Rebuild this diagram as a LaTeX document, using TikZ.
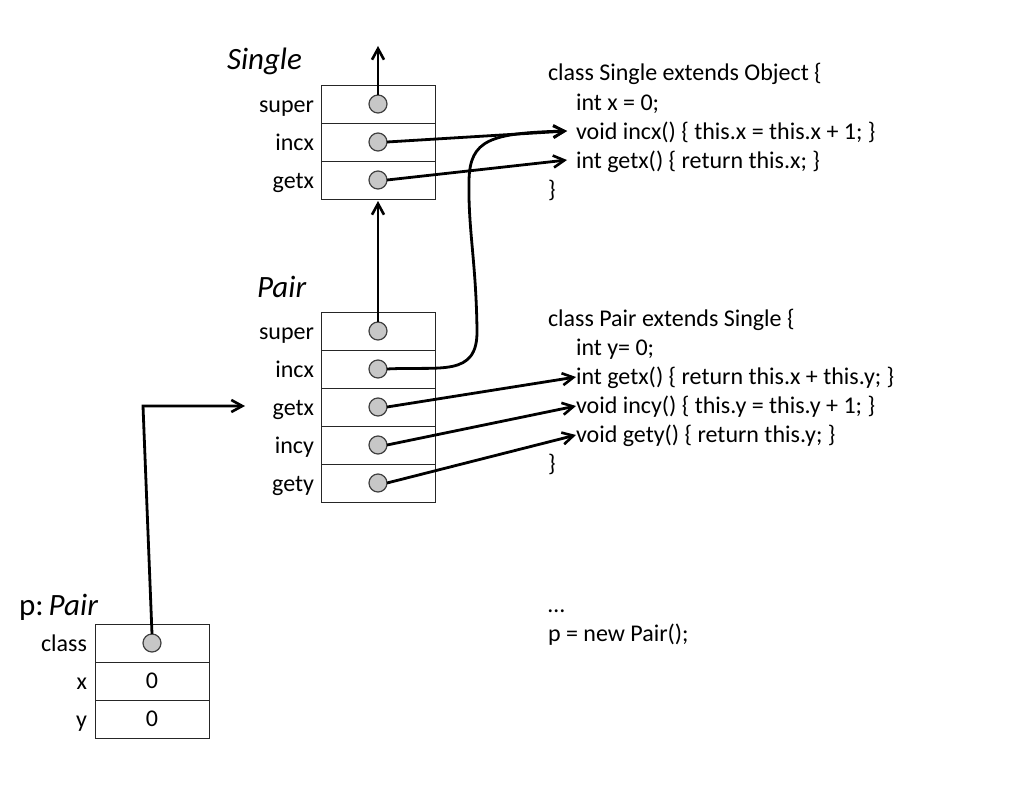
\documentclass[tikz,border=0pt]{standalone}
\usepackage{fontspec}
\setmainfont{Carlito}
\usetikzlibrary{arrows.meta}
\begin{document}
\begin{tikzpicture}[x=1pt,y=-1pt,
  every node/.style={inner sep=0pt,outer sep=0pt},
  row/.style={draw=black!85,line width=1pt,minimum width=114pt,minimum height=38pt,fill=white,font=\fontsize{24}{29}\selectfont},
  dot/.style={circle,draw=black!75,line width=1.2pt,fill=black!22,minimum size=18pt},
  lbl/.style={anchor=base east,font=\fontsize{24}{29}\selectfont},
  code/.style={anchor=base west,font=\fontsize{24}{29}\selectfont},
  title/.style={anchor=base west,font=\fontsize{31}{36}\selectfont\itshape},
  conn/.style={line width=2.8pt,-{Straight Barb[length=11pt,width=12pt,line width=2.6pt]}}
]
\useasboundingbox (0,0) rectangle (1024,784);
% Single object
\node[title] (tsingle) at (227,70) {Single};
\node[row] (s1) at (378,104) {};
\node[row] (s2) at (378,142) {};
\node[row] (s3) at (378,180) {};
\node[lbl] (ls1) at (314,112) {super};
\node[lbl] (ls2) at (314,150) {incx};
\node[lbl] (ls3) at (314,188) {getx};
% Pair object
\node[title] (tpair) at (257,297) {Pair};
\node[row] (p1) at (378,331) {};
\node[row] (p2) at (378,369) {};
\node[row] (p3) at (378,407) {};
\node[row] (p4) at (378,445) {};
\node[row] (p5) at (378,483) {};
\node[lbl] (lp1) at (314,339) {super};
\node[lbl] (lp2) at (314,377) {incx};
\node[lbl] (lp3) at (314,415) {getx};
\node[lbl] (lp4) at (314,453) {incy};
\node[lbl] (lp5) at (314,491) {gety};
% p instance
\node[anchor=base west,font=\fontsize{31}{36}\selectfont] (tp) at (19,615) {p:\,\textit{Pair}};
\node[row] (o1) at (152,643) {};
\node[row] (o2) at (152,681) {0};
\node[row] (o3) at (152,719) {0};
\node[lbl] (lo1) at (87,651) {class};
\node[lbl] (lo2) at (87,689) {x};
\node[lbl] (lo3) at (87,727) {y};
% code Single
\node[code] (c1) at (548,81) {class Single extends Object \{};
\node[code] (c2) at (576,110) {int x = 0;};
\node[code] (c3) at (576,139) {void incx() \{ this.x = this.x + 1; \}};
\node[code] (c4) at (576,168) {int getx() \{ return this.x; \}};
\node[code] (c5) at (548,197) {\}};
% code Pair
\node[code] (d1) at (548,326) {class Pair extends Single \{};
\node[code] (d2) at (576,355) {int y= 0;};
\node[code] (d3) at (576,384) {int getx() \{ return this.x + this.y; \}};
\node[code] (d4) at (576,413) {void incy() \{ this.y = this.y + 1; \}};
\node[code] (d5) at (576,442) {void gety() \{ return this.y; \}};
\node[code] (d6) at (548,471) {\}};
\node[code] (e1) at (548,612) {…};
\node[code] (e2) at (548,641) {p = new Pair();};
% coordinates
\coordinate (top) at (378,46);
\coordinate (sbot) at (378,201);
\coordinate (incxT) at (567,131);
\coordinate (getxT) at (567,160);
\coordinate (pgetxT) at (576,377);
\coordinate (pincyT) at (576,406);
\coordinate (pgetyT) at (576,435);
\coordinate (bend) at (143,406);
\coordinate (ptarget) at (245,406);
% dots
\node[dot] (sd1) at (378,104) {};
\node[dot] (sd2) at (378,142) {};
\node[dot] (sd3) at (378,180) {};
\node[dot] (pd1) at (378,331) {};
\node[dot] (pd2) at (378,369) {};
\node[dot] (pd3) at (378,407) {};
\node[dot] (pd4) at (378,445) {};
\node[dot] (pd5) at (378,483) {};
\node[dot] (od1) at (152,643) {};
% connectors
\draw[conn] (sd1.north) -- (top);
\draw[conn] (pd1.north) -- (sbot);
\draw[conn] (sd2.east) -- (incxT);
\draw[conn] (sd3.east) -- (getxT);
\draw[conn] (pd2.east) .. controls (440,366) and (478,378) .. (477,330)
   .. controls (476,260) and (468,230) .. (469,180)
   .. controls (470,140) and (490,133) .. (incxT);
\draw[conn] (pd3.east) -- (pgetxT);
\draw[conn] (pd4.east) -- (pincyT);
\draw[conn] (pd5.east) -- (pgetyT);
\draw[conn] (od1.north) -- (bend) -- (ptarget);
\end{tikzpicture}
\end{document}
